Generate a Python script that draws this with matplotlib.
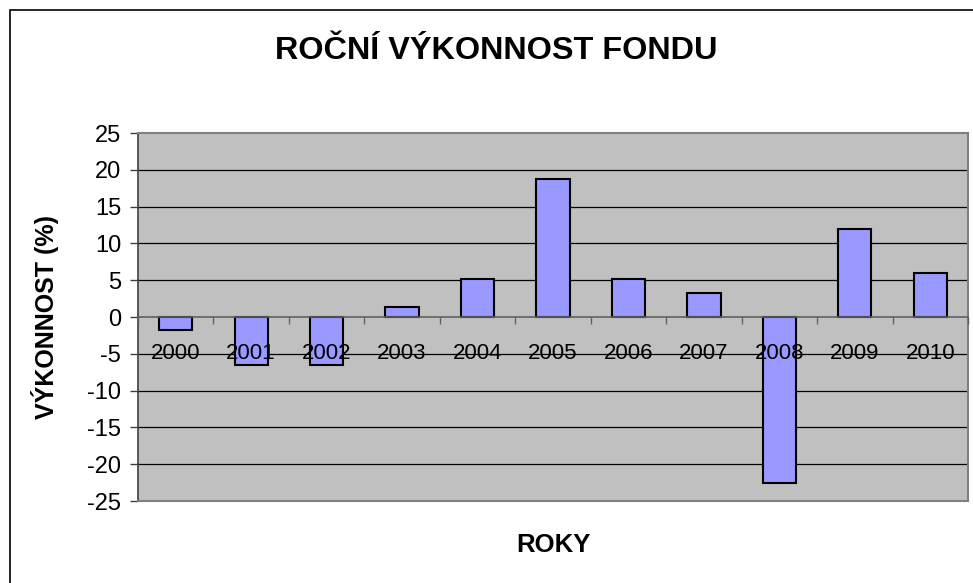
import matplotlib
matplotlib.use('Agg')
import matplotlib.pyplot as plt
from matplotlib.patches import Rectangle
import numpy as np

# data
years = ['2000', '2001', '2002', '2003', '2004', '2005',
         '2006', '2007', '2008', '2009', '2010']
performance = [-1.8, -6.5, -6.5, 1.4, 5.2, 18.7, 5.2, 3.3, -22.5, 12.0, 6.0]
y_ticks = [-25, -20, -15, -10, -5, 0, 5, 10, 15, 20, 25]

title = 'ROČNÍ VÝKONNOST FONDU'
x_label = 'ROKY'
y_label = 'VÝKONNOST (%)'

plt.rcParams['font.family'] = ['Liberation Sans', 'DejaVu Sans']

fig = plt.figure(figsize=(9.73, 5.83), dpi=100)
ax = fig.add_axes([138 / 973, 1 - 501 / 583, 830 / 973, 368 / 583])

# chart frame (only top and left edge visible in the original)
fig.patches.append(Rectangle((10 / 973, -0.2), 1.2, 1.2 - 10 / 583,
                             transform=fig.transFigure, fill=False,
                             edgecolor='black', linewidth=1.2, clip_on=False))

ax.set_facecolor('#C0C0C0')
# gridlines drawn by hand so the tick labels can sit above the bars
for v in y_ticks[1:-1]:
    if v != 0:
        ax.axhline(v, color='black', linewidth=0.9, zorder=1)

x = np.arange(len(years))
ax.bar(x, performance, width=0.44, color='#9999FF', edgecolor='black',
       linewidth=1.5, zorder=2)

ax.set_xlim(-0.5, len(years) - 0.5)
ax.set_ylim(-25, 25)
ax.set_yticks(y_ticks)
ax.set_yticklabels([str(v) for v in y_ticks])

# x axis sits on the zero line
ax.spines['bottom'].set_position(('data', 0))
ax.spines['bottom'].set_color('#606060')
ax.spines['bottom'].set_linewidth(1.2)
ax.spines['bottom'].set_zorder(3)
for s in ['top', 'right']:
    ax.spines[s].set_color('#808080')
    ax.spines[s].set_linewidth(1.5)
ax.spines['left'].set_color('#404040')
ax.spines['left'].set_linewidth(1.2)
ax.axhline(-25, color='#808080', linewidth=1.5, clip_on=False, zorder=5)

ax.set_xticks(x)
ax.set_xticklabels(years)
ax.set_xticks(np.arange(-0.5, len(years)), minor=True)
ax.tick_params(axis='x', which='major', length=0, pad=19, labelsize=16)
ax.tick_params(axis='x', which='minor', length=5, width=1, color='#606060',
               direction='out')
ax.tick_params(axis='y', length=6, width=1, color='#404040', pad=6,
               labelsize=17)
ax.xaxis.set_zorder(4)

fig.text(496 / 973, 1 - 51 / 583, title, ha='center', va='center',
         fontsize=23.3, fontweight='bold')
fig.text(553 / 973, 1 - 545 / 583, x_label, ha='center', va='center',
         fontsize=18.5, fontweight='bold')
fig.text(45 / 973, 1 - 317 / 583, y_label, ha='center', va='center',
         rotation=90, fontsize=18, fontweight='bold')

fig.savefig('out.png', dpi=100)
